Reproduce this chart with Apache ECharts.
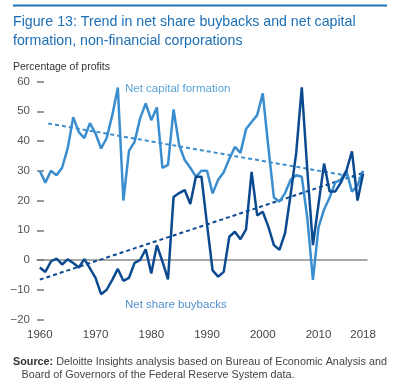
<!DOCTYPE html>
<html>
<head>
<meta charset="utf-8">
<script src="https://cdn.jsdelivr.net/npm/echarts@6/dist/echarts.min.js"></script>
<style>
html,body{margin:0;padding:0;background:#fff;}
#c{width:400px;height:383px;}
</style>
</head>
<body>
<div id="c"></div>
<script>
// ---- data ----
const years = [];
for (let y = 1960; y <= 2018; y++) years.push(y);

const netCapitalFormation = [
  30, 26, 30, 28.5, 31, 37.5, 48, 43, 41, 46,          // 1960-69
  42.5, 37.5, 41, 48.6, 58, 20, 36.7, 39.7, 47.6, 52.6, // 1970-79
  47, 51.3, 31, 32, 50.6, 38.6, 33.6, 31, 28, 30,       // 1980-89
  30, 22.4, 27, 29.5, 34, 38, 36, 44, 46.4, 48.7,       // 1990-99
  56, 38, 21, 19.6, 22.5, 27, 28.5, 28, 14, -6.7,       // 2000-09
  11, 17, 21, 26, 27, 30, 23, 25, 30                    // 2010-18
];

const netShareBuybacks = [
  -2.5, -4, -0.5, 0.5, -1.5, 0.2, -1, -2.5, 0.3, -2.8,  // 1960-69
  -6, -11.5, -10, -6.7, -3, -7, -6, -1, 0, 3.6,         // 1970-79
  -4.5, 5, -0.5, -6.5, 21.2, 22.5, 23.5, 18.8, 28, 28,  // 1980-89
  12, -3.5, -5.6, -4, 7.8, 9.5, 7, 10.3, 29.6, 15,      // 1990-99
  16.2, 11.2, 5, 3.4, 9, 22, 36, 58, 30, 5,             // 2000-09
  18.7, 32.4, 23, 23, 26, 30, 36.5, 20, 29              // 2010-18
];

// linear trend lines (start/end points)
const trendCapitalYears = [1961.5, 2018];
const trendCapitalValues = [45.9, 27.4];
const trendBuybackYears = [1960, 2018];
const trendBuybackValues = [-6.6, 29.3];

const xTickLabels = [1960, 1970, 1980, 1990, 2000, 2010, 2018];
const yMin = -20, yMax = 60, yStep = 10;

// ---- chart ----
const FONT = '"Liberation Sans", Arial, Helvetica, sans-serif';
const LIGHT = '#3a8ecf';
const DARK = '#0b4a90';

const pairs = (xs, ys) => xs.map((x, i) => [x, ys[i]]);

const chart = echarts.init(document.getElementById('c'), null, {renderer: 'canvas'});
chart.setOption({
  animation: false,
  backgroundColor: '#fff',
  textStyle: {fontFamily: FONT},
  grid: {left: 37, right: 33, top: 81.5, bottom: 63.5, containLabel: false},
  xAxis: {
    type: 'value',
    min: 1959.5,
    max: 2018.7,
    axisLine: {show: true, lineStyle: {color: '#8a8a8a', width: 1.5}},
    axisTick: {show: false},
    splitLine: {show: false},
    axisLabel: {
      customValues: xTickLabels,
      color: '#444', fontSize: 11.5, margin: 9, fontFamily: FONT,
      formatter: v => String(v)
    }
  },
  yAxis: {
    type: 'value',
    min: yMin, max: yMax, interval: yStep,
    axisLine: {show: false},
    axisTick: {show: true, inside: true, length: 7, lineStyle: {color: '#777', width: 1.5}},
    splitLine: {show: false},
    axisLabel: {
      color: '#555', fontSize: 11.5, margin: 7, fontFamily: FONT,
      formatter: v => String(v).replace('-', '\u2212')
    }
  },
  series: [
    {
      name: 'Net capital formation trend', type: 'line',
      data: pairs(trendCapitalYears, trendCapitalValues),
      showSymbol: false, silent: true,
      lineStyle: {color: LIGHT, width: 2, type: [4, 3]}
    },
    {
      name: 'Net share buybacks trend', type: 'line',
      data: pairs(trendBuybackYears, trendBuybackValues),
      showSymbol: false, silent: true,
      lineStyle: {color: DARK, width: 2, type: [4, 3]}
    },
    {
      name: 'Net capital formation', type: 'line',
      data: pairs(years, netCapitalFormation),
      showSymbol: false,
      lineStyle: {color: LIGHT, width: 2.5}
    },
    {
      name: 'Net share buybacks', type: 'line',
      data: pairs(years, netShareBuybacks),
      showSymbol: false,
      lineStyle: {color: DARK, width: 2.5}
    }
  ],
  graphic: [
    {type: 'rect', shape: {x: 13, y: 4.5, width: 374, height: 2}, style: {fill: '#2271b3'}},
    {type: 'text', x: 13, y: 22.4, style: {
      text: 'Figure 13: Trend in net share buybacks and net capital',
      font: '14.2px ' + FONT, fill: '#1c6fb6', verticalAlign: 'middle'}},
    {type: 'text', x: 13, y: 40.8, style: {
      text: 'formation, non-financial corporations',
      font: '14.2px ' + FONT, fill: '#1c6fb6', verticalAlign: 'middle'}},
    {type: 'text', x: 13, y: 67, style: {
      text: 'Percentage of profits',
      font: '10.5px ' + FONT, fill: '#333', verticalAlign: 'middle'}},
    {type: 'text', x: 125, y: 89, style: {
      text: 'Net capital formation',
      font: '11.5px ' + FONT, fill: '#5aa3d8', verticalAlign: 'middle'}},
    {type: 'text', x: 125, y: 304.5, style: {
      text: 'Net share buybacks',
      font: '11.5px ' + FONT, fill: '#4f8fcd', verticalAlign: 'middle'}},
    {type: 'text', x: 13, y: 362.5, style: {
      text: '{b|Source:} Deloitte Insights analysis based on Bureau of Economic Analysis and',
      font: '10.8px ' + FONT, fill: '#444', verticalAlign: 'middle',
      rich: {b: {fontWeight: 'bold', fontSize: 10.8, fontFamily: FONT, fill: '#333'}}}},
    {type: 'text', x: 21.5, y: 375, style: {
      text: 'Board of Governors of the Federal Reserve System data.',
      font: '10.8px ' + FONT, fill: '#444', verticalAlign: 'middle'}}
  ]
});
</script>
</body>
</html>
